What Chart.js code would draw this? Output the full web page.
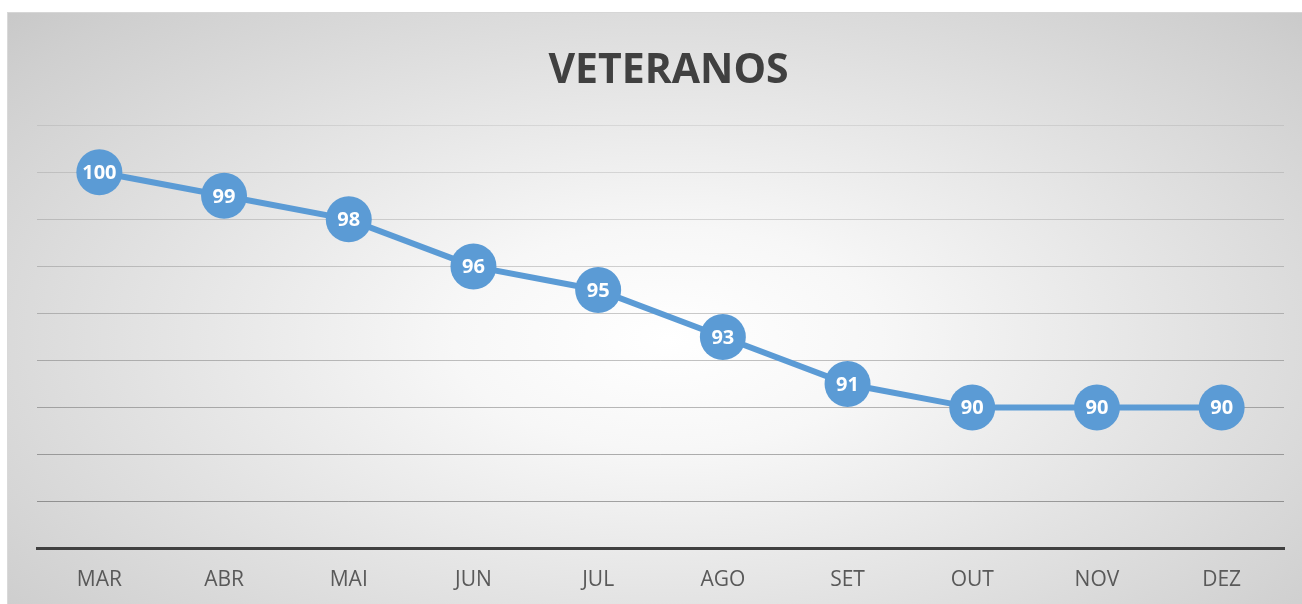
<!DOCTYPE html>
<html>
<head>
<meta charset="utf-8">
<script src="https://cdn.jsdelivr.net/npm/chart.js@4.4.1/dist/chart.umd.min.js"></script>
<style>
  html, body { margin: 0; padding: 0; background: #ffffff; }
  body { width: 1302px; height: 604px; overflow: hidden; position: relative; }
  #panel {
    position: absolute; left: 7px; top: 12px; width: 1295px; height: 592px;
    border-top: 1px solid #d6d6d6; border-left: 1px solid #d9d9d9;
    box-sizing: border-box; overflow: hidden;
    background: radial-gradient(ellipse 75% 85% at 51% 55%, #ffffff 0%, #f7f7f7 22%, #e2e2e2 55%, #cfcfcf 85%, #c4c4c4 100%);
  }
  #chart { position: absolute; left: -1px; top: 0; }
</style>
</head>
<body>
<div id="panel"><canvas id="chart" width="1300" height="609"></canvas></div>
<script>
const months = ['MAR', 'ABR', 'MAI', 'JUN', 'JUL', 'AGO', 'SET', 'OUT', 'NOV', 'DEZ'];
const veteranos = [100, 99, 98, 96, 95, 93, 91, 90, 90, 90];
const yMin = 84, yMax = 102, yStep = 2;

const BLUE = '#5b9bd5';

// Writes each value in white inside its marker
const pointValues = {
  id: 'pointValues',
  afterDatasetsDraw(chart) {
    const ctx = chart.ctx;
    const meta = chart.getDatasetMeta(0);
    const data = chart.data.datasets[0].data;
    ctx.save();
    ctx.fillStyle = '#ffffff';
    ctx.font = 'bold 20px "Open Sans"';
    ctx.textAlign = 'center';
    ctx.textBaseline = 'middle';
    meta.data.forEach((pt, i) => {
      ctx.fillText(String(data[i]), pt.x, pt.y + 1);
    });
    ctx.restore();
  }
};

new Chart(document.getElementById('chart'), {
  type: 'line',
  data: {
    labels: months,
    datasets: [{
      data: veteranos,
      borderColor: BLUE,
      backgroundColor: BLUE,
      borderWidth: 6,
      pointRadius: 23,
      pointHoverRadius: 23,
      pointBorderWidth: 0,
      pointBackgroundColor: BLUE,
      tension: 0,
      clip: false
    }]
  },
  options: {
    responsive: false,
    animation: false,
    events: [],
    layout: { padding: { left: 30, right: 7, top: 0, bottom: 10 } },
    plugins: {
      legend: { display: false },
      tooltip: { enabled: false },
      title: {
        display: true,
        text: 'VETERANOS',
        color: '#404040',
        font: { family: '"Open Sans"', size: 41, weight: 'bold' },
        padding: { top: 34, bottom: 29 }
      }
    },
    scales: {
      x: {
        offset: true,
        grid: { display: false, drawTicks: false },
        border: { display: true, color: '#404040', width: 3 },
        ticks: {
          color: '#595959',
          font: { family: '"Open Sans"', size: 21 },
          padding: 19
        }
      },
      y: {
        min: yMin,
        max: yMax,
        afterFit(scale) { scale.width = 0; },
        ticks: { display: false, stepSize: yStep },
        border: { display: false },
        grid: {
          drawTicks: false,
          lineWidth: 1,
          color(ctx) {
            const v = ctx.tick ? ctx.tick.value : yMax;
            const t = (yMax - v) / (yMax - yMin);
            const a = 0.08 + 0.28 * t;
            return 'rgba(0,0,0,' + a.toFixed(3) + ')';
          }
        }
      }
    }
  },
  plugins: [pointValues]
});
</script>
</body>
</html>
